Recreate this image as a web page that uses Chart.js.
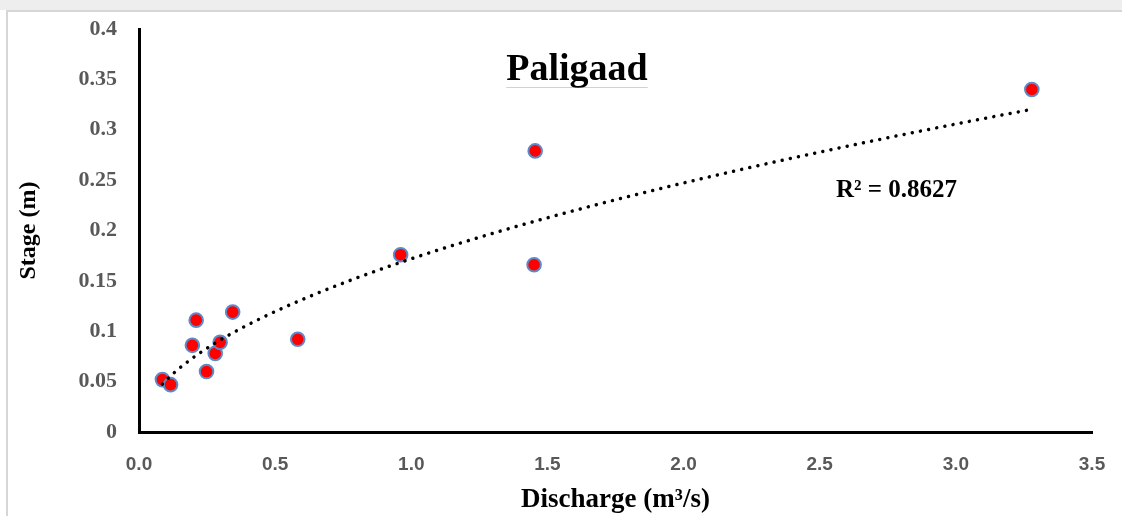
<!DOCTYPE html>
<html>
<head>
<meta charset="utf-8">
<script src="https://cdn.jsdelivr.net/npm/chart.js@4.4.1/dist/chart.umd.min.js"></script>
<style>
  html, body { margin: 0; padding: 0; background: #ffffff; }
  canvas { display: block; }
</style>
</head>
<body>
<canvas id="c" width="1122" height="516"></canvas>
<script>
// ---- data ----
const chartTitle = "Paligaad";
const xAxisTitle = "Discharge (m³/s)";
const yAxisTitle = "Stage (m)";
const r2Label = "R² = 0.8627";

const discharge = [0.086, 0.116, 0.196, 0.210, 0.248, 0.280, 0.298, 0.344, 0.583, 0.961, 1.455, 1.451, 3.279];
const stage     = [0.052, 0.047, 0.086, 0.111, 0.060, 0.078, 0.089, 0.119, 0.092, 0.176, 0.279, 0.166, 0.340];

const xTickValues = [0, 0.5, 1.0, 1.5, 2.0, 2.5, 3.0, 3.5];
const xTickLabels = ["0.0", "0.5", "1.0", "1.5", "2.0", "2.5", "3.0", "3.5"];
const yTickValues = [0, 0.05, 0.1, 0.15, 0.2, 0.25, 0.3, 0.35, 0.4];
const yTickLabels = ["0", "0.05", "0.1", "0.15", "0.2", "0.25", "0.3", "0.35", "0.4"];

// ---- power trendline (least squares in log space), as Excel does ----
function powerFit(xs, ys) {
  const n = xs.length;
  let sx = 0, sy = 0, sxx = 0, sxy = 0;
  for (let i = 0; i < n; i++) {
    const lx = Math.log(xs[i]), ly = Math.log(ys[i]);
    sx += lx; sy += ly; sxx += lx * lx; sxy += lx * ly;
  }
  const b = (n * sxy - sx * sy) / (n * sxx - sx * sx);
  const a = Math.exp((sy - b * sx) / n);
  return { a, b };
}
const fit = powerFit(discharge, stage);
const xMin = Math.min(...discharge), xMax = Math.max(...discharge);
const trend = [];
const steps = 300;
for (let i = 0; i <= steps; i++) {
  const x = xMin + (xMax - xMin) * i / steps;
  trend.push({ x, y: fit.a * Math.pow(x, fit.b) });
}

const points = discharge.map((q, i) => ({ x: q, y: stage[i] }));

const SERIF = "'Liberation Serif', 'Times New Roman', serif";
const SANS = "'Liberation Sans', Arial, sans-serif";

const decor = {
  id: 'decor',
  beforeDraw(chart) {
    const ctx = chart.ctx;
    ctx.save();
    ctx.fillStyle = '#ffffff';
    ctx.fillRect(0, 0, chart.width, chart.height);
    // faded strip at the top of the picture
    ctx.fillStyle = '#eeeeee';
    ctx.fillRect(0, 0, chart.width, 10);
    // frame lines
    ctx.strokeStyle = '#d6d6d6';
    ctx.lineWidth = 2;
    ctx.beginPath();
    ctx.moveTo(7, chart.height);
    ctx.lineTo(7, 11);
    ctx.lineTo(chart.width, 11);
    ctx.stroke();
    ctx.restore();
  },
  afterDraw(chart) {
    const ctx = chart.ctx;
    ctx.save();
    ctx.fillStyle = '#000000';
    ctx.textBaseline = 'middle';
    ctx.textAlign = 'center';
    ctx.font = "bold 38px " + SERIF;
    ctx.fillText(chartTitle, 577, 70);
    const w = ctx.measureText(chartTitle).width;
    ctx.strokeStyle = 'rgba(220,110,110,0.4)';
    ctx.lineWidth = 1;
    ctx.beginPath();
    ctx.moveTo(577 - w / 2, 87.5);
    ctx.lineTo(577 + w / 2, 87.5);
    ctx.stroke();
    ctx.textAlign = 'left';
    ctx.font = "bold 25px " + SERIF;
    ctx.fillText(r2Label, 836, 191);
    ctx.restore();
  }
};

new Chart(document.getElementById('c'), {
  type: 'scatter',
  data: {
    datasets: [
      {
        label: 'Observed',
        data: points,
        order: 2,
        pointRadius: 6.8,
        pointHoverRadius: 6.8,
        pointBackgroundColor: '#ff0000',
        pointBorderColor: '#5b8bc9',
        pointBorderWidth: 2
      },
      {
        type: 'line',
        label: 'Power trend',
        data: trend,
        order: 1,
        showLine: true,
        pointRadius: 0,
        borderColor: '#000000',
        borderWidth: 3.5,
        borderDash: [0.01, 8.3],
        borderCapStyle: 'round',
        fill: false,
        tension: 0
      }
    ]
  },
  options: {
    responsive: false,
    animation: false,
    devicePixelRatio: 1,
    layout: { padding: { left: 0, top: 29, right: 30, bottom: 0 } },
    plugins: { legend: { display: false }, tooltip: { enabled: false }, title: { display: false } },
    scales: {
      x: {
        type: 'linear',
        min: 0, max: 3.5,
        afterBuildTicks(s) { s.ticks = xTickValues.map(v => ({ value: v })); },
        afterFit(s) { s.height = 84; s.paddingLeft = 0; s.paddingRight = 0; },
        grid: { display: false, drawTicks: false },
        border: { display: true, color: '#000000', width: 3 },
        ticks: {
          autoSkip: false, maxRotation: 0, padding: 21,
          color: '#595959',
          font: { family: SANS, size: 19, weight: 'bold' },
          callback: (v, i) => xTickLabels[i]
        },
        title: {
          display: true, text: xAxisTitle, color: '#000000',
          font: { family: SERIF, size: 27, weight: 'bold' },
          padding: { top: 0, bottom: 0 }
        }
      },
      y: {
        type: 'linear',
        min: 0, max: 0.4,
        afterBuildTicks(s) { s.ticks = yTickValues.map(v => ({ value: v })); },
        afterFit(s) { s.width = 139; s.paddingTop = 0; s.paddingBottom = 0; },
        grid: { display: false, drawTicks: false },
        border: { display: true, color: '#000000', width: 3 },
        ticks: {
          autoSkip: false, padding: 22,
          color: '#595959',
          font: { family: SERIF, size: 22, weight: 'bold' },
          callback: (v, i) => yTickLabels[i]
        },
        title: {
          display: true, text: yAxisTitle, color: '#000000',
          font: { family: SERIF, size: 24, weight: 'bold' },
          padding: { top: 14, bottom: 0 }
        }
      }
    }
  },
  plugins: [decor]
});
</script>
</body>
</html>
